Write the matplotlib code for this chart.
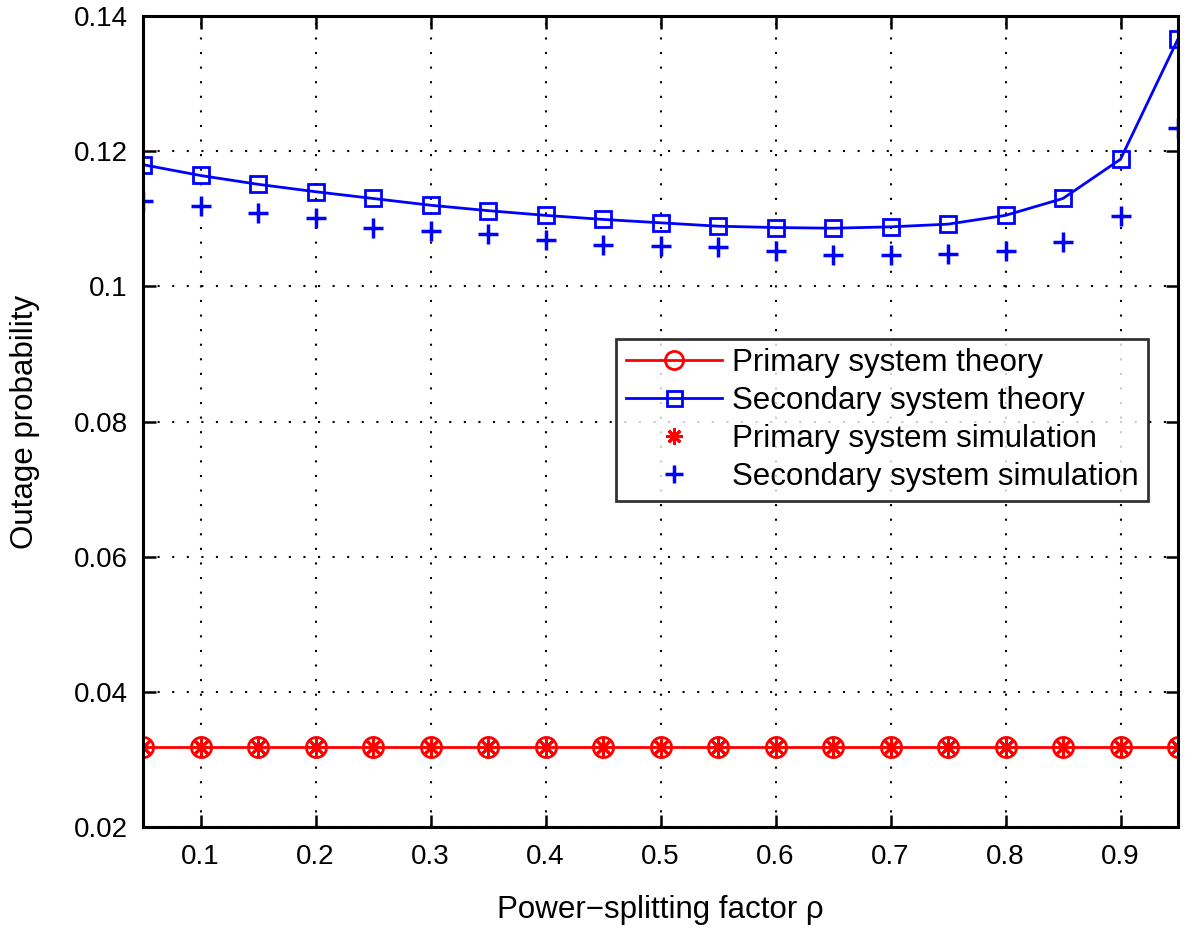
import numpy as np
import matplotlib

matplotlib.use("Agg")
import matplotlib.pyplot as plt

plt.rcParams["font.family"] = ["Liberation Sans", "DejaVu Sans"]

# power-splitting factor
rho = [0.05, 0.10, 0.15, 0.20, 0.25, 0.30, 0.35, 0.40, 0.45, 0.50,
       0.55, 0.60, 0.65, 0.70, 0.75, 0.80, 0.85, 0.90, 0.95]

primary_theory = [0.0318] * 19
primary_sim = [0.0318, 0.0319, 0.0318, 0.0318, 0.0318, 0.0318, 0.0318,
               0.0318, 0.0318, 0.0318, 0.0318, 0.0318, 0.0318, 0.0318,
               0.0318, 0.0318, 0.0318, 0.0318, 0.0318]
secondary_theory = [0.1180, 0.1164, 0.1151, 0.1140, 0.1130, 0.1120, 0.1112,
                    0.1105, 0.1099, 0.1094, 0.1089, 0.1087, 0.1086, 0.1088,
                    0.1092, 0.1105, 0.1130, 0.1188, 0.1366]
secondary_sim = [0.1127, 0.1119, 0.1109, 0.1101, 0.1087, 0.1082, 0.1077,
                 0.1068, 0.1061, 0.1059, 0.1058, 0.1053, 0.1046, 0.1047,
                 0.1048, 0.1053, 0.1066, 0.1104, 0.1234]

xticks = [0.1, 0.2, 0.3, 0.4, 0.5, 0.6, 0.7, 0.8, 0.9]
yticks = [0.02, 0.04, 0.06, 0.08, 0.1, 0.12, 0.14]
ytick_labels = ["0.02", "0.04", "0.06", "0.08", "0.1", "0.12", "0.14"]

RED, BLUE = "#FF0000", "#0000FF"

fig = plt.figure(figsize=(11.85, 9.32), dpi=100)
ax = fig.add_axes([143 / 1185, 1 - 827 / 932, 1035 / 1185, 811 / 932])

ax.plot(rho, primary_theory, color=RED, lw=2, marker="o", ms=14.5,
        mfc="none", mew=2, label="Primary system theory")
ax.plot(rho, secondary_theory, color=BLUE, lw=2, marker="s", ms=12,
        mfc="none", mew=2, label="Secondary system theory")
ax.plot(rho, primary_sim, ls="none", color=RED, marker=(8, 2, 0), ms=13,
        mew=2, label="Primary system simulation")
ax.plot(rho, secondary_sim, ls="none", color=BLUE, marker="+", ms=15,
        mew=2.5, label="Secondary system simulation")

ax.set_xlim(0.05, 0.95)
ax.set_ylim(0.02, 0.14)
ax.set_xticks(xticks)
ax.set_yticks(yticks)
ax.set_yticklabels(ytick_labels)
ax.tick_params(direction="in", length=9, width=1.8, labelsize=20,
               top=True, right=True)
ax.tick_params(axis="x", pad=12)
ax.tick_params(axis="y", pad=11)
for s in ax.spines.values():
    s.set_linewidth(2.2)
ax.grid(True, color="black", ls=(0, (1, 6)), lw=1.5)

ax.set_xlabel("Power\u2212splitting factor \u03c1", fontsize=22.5, labelpad=18)
ax.set_ylabel("Outage probability", fontsize=22.5, labelpad=24)

leg = ax.legend(loc="center", bbox_to_anchor=(0.714, 0.502),
                fontsize=22.5, frameon=True, fancybox=False,
                edgecolor="black", handlelength=3.1, handletextpad=0.3,
                labelspacing=0.25, borderpad=0.3, borderaxespad=0,
                markerscale=0.9)
leg.get_frame().set_linewidth(2)

fig.savefig("out.png", dpi=100)
